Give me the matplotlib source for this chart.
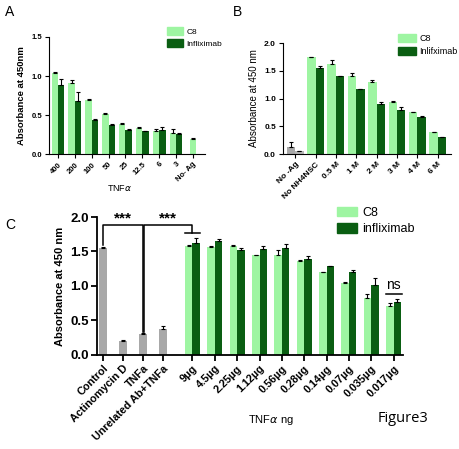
import numpy as np
import matplotlib
matplotlib.use("Agg")
import matplotlib.pyplot as plt
from matplotlib.patches import Patch

plt.rcParams["font.family"] = ["Liberation Sans", "DejaVu Sans"]

light = "#9ef5a2"
dark = "#0a5e12"
grey = "#a8a8a8"

# panel A
a_cats = ["400", "200", "100", "50", "25", "12.5", "6", "3", "No- Ag"]
a_c8 = [1.04, 0.915, 0.69, 0.51, 0.38, 0.33, 0.30, 0.27, 0.19]
a_c8_err = [0.01, 0.03, 0.01, 0.01, 0.02, 0.02, 0.02, 0.05, 0.01]
a_inf = [0.88, 0.68, 0.435, 0.375, 0.31, 0.295, 0.305, 0.258]
a_inf_err = [0.08, 0.12, 0.02, 0.005, 0.005, 0.005, 0.04, 0.01]

# panel B
b_cats = ["No -Ag", "No NH4NSC", "0.5 M", "1 M", "2 M", "3 M", "4 M", "6 M"]
b_c8 = [0.12, 1.75, 1.62, 1.41, 1.30, 0.94, 0.76, 0.40]
b_c8_err = [0.10, 0.0, 0.08, 0.05, 0.04, 0.01, 0.0, 0.0]
b_inf = [0.06, 1.545, 1.40, 1.18, 0.91, 0.80, 0.67, 0.31]
b_inf_err = [0.0, 0.05, 0.0, 0.0, 0.03, 0.05, 0.01, 0.0]

# panel C
c_ctrl_cats = ["Control", "Actinomycin D", "TNFa", "Unrelated Ab+TNFa"]
c_ctrl = [1.55, 0.20, 0.31, 0.375]
c_ctrl_err = [0.02, 0.01, 0.01, 0.04]
c_cats = ["9µg", "4.5µg", "2.25µg", "1.12µg", "0.56µg", "0.28µg", "0.14µg",
          "0.07µg", "0.035µg", "0.017µg"]
c_c8 = [1.58, 1.57, 1.585, 1.445, 1.455, 1.36, 1.20, 1.045, 0.82, 0.71]
c_c8_err = [0.01, 0.01, 0.01, 0.01, 0.07, 0.01, 0.01, 0.01, 0.06, 0.04]
c_inf = [1.62, 1.645, 1.52, 1.54, 1.555, 1.39, 1.285, 1.21, 1.02, 0.77]
c_inf_err = [0.08, 0.03, 0.03, 0.04, 0.05, 0.04, 0.01, 0.02, 0.09, 0.04]

fig = plt.figure(figsize=(4.6, 4.49), dpi=100)


def style(ax, lw):
    for s in ["top", "right"]:
        ax.spines[s].set_visible(False)
    for s in ["left", "bottom"]:
        ax.spines[s].set_linewidth(lw)
    ax.tick_params(width=lw, length=3, direction="out", pad=2)


ekw = dict(ecolor="black", elinewidth=0.8, capsize=1.2, capthick=0.8)
legkw = dict(loc="upper left", bbox_transform=fig.transFigure, frameon=False,
             borderpad=0, borderaxespad=0, handletextpad=0.4)

# ---- A
axA = fig.add_axes([0.1065, 0.657, 0.339, 0.2606])
style(axA, 0.8)
xa = np.arange(len(a_cats))
w = 0.375
xc8 = np.append(xa[:-1] - w / 2, xa[-1])
axA.bar(xc8, a_c8, w, color=light, yerr=[np.zeros(9), a_c8_err], error_kw=ekw)
axA.bar(xa[:-1] + w / 2, a_inf, w, color=dark, yerr=[np.zeros(8), a_inf_err], error_kw=ekw)
axA.set_xlim(-0.53, 8.71)
axA.set_ylim(0, 1.5)
axA.set_yticks([0, 0.5, 1.0, 1.5])
axA.set_yticklabels(["0.0", "0.5", "1.0", "1.5"], fontsize=5.5, fontweight="bold")
axA.set_xticks(xa)
axA.set_xticklabels(a_cats, rotation=45, ha="right", rotation_mode="anchor",
                    fontsize=5.5, fontweight="bold")
axA.set_ylabel("Absorbance at 450nm", fontsize=6.8, fontweight="bold", labelpad=4)
axA.set_xlabel("TNF$\\alpha$", fontsize=6.5)
axA.xaxis.set_label_coords(0.45, -0.245)
axA.legend(handles=[Patch(color=light, label="C8"), Patch(color=dark, label="Infliximab")],
           bbox_to_anchor=(0.362, 0.94), fontsize=6, handlelength=2.0, handleheight=1.1,
           labelspacing=0.35, **legkw)

# ---- B
axB = fig.add_axes([0.615, 0.657, 0.365, 0.247])
style(axB, 0.8)
xb = np.arange(len(b_cats))
w = 0.415
cl = [grey] + [light] * 7
cd = ["#b8b8b8"] + [dark] * 7
axB.bar(xb - w / 2, b_c8, w, color=cl, yerr=[np.zeros(8), b_c8_err], error_kw=ekw)
axB.bar(xb + w / 2, b_inf, w, color=cd, yerr=[np.zeros(8), b_inf_err], error_kw=ekw)
axB.set_xlim(-0.6, 7.64)
axB.set_ylim(0, 2.0)
axB.set_yticks([0, 0.5, 1.0, 1.5, 2.0])
axB.set_yticklabels(["0.0", "0.5", "1.0", "1.5", "2.0"], fontsize=6, fontweight="bold")
axB.set_xticks(xb)
axB.set_xticklabels(b_cats, rotation=45, ha="right", rotation_mode="anchor",
                    fontsize=6, fontweight="bold")
axB.set_ylabel("Absorbance at 450 nm", fontsize=7, labelpad=4)
axB.legend(handles=[Patch(color=light, label="C8"), Patch(color=dark, label="Inlifximab")],
           bbox_to_anchor=(0.865, 0.925), fontsize=6.5, handlelength=2.0, handleheight=1.1,
           labelspacing=0.4, **legkw)

# ---- C
axC = fig.add_axes([0.211, 0.2094, 0.665, 0.3073])
style(axC, 1.3)
xg = np.arange(4) * 0.9
xp = 4.0 + np.arange(10)
w = 0.34
axC.bar(xg, c_ctrl, 0.36, color=grey, yerr=[np.zeros(4), c_ctrl_err], error_kw=ekw)
axC.bar(xp - w / 2, c_c8, w, color=light, yerr=[np.zeros(10), c_c8_err], error_kw=ekw)
axC.bar(xp + w / 2, c_inf, w, color=dark, yerr=[np.zeros(10), c_inf_err], error_kw=ekw)
axC.set_xlim(-0.27, 13.42)
axC.set_ylim(0, 2.0)
axC.set_yticks([0, 0.5, 1.0, 1.5, 2.0])
axC.set_yticklabels(["0.0", "0.5", "1.0", "1.5", "2.0"], fontsize=9.5, fontweight="bold")
axC.set_xticks(np.concatenate([xg, xp]))
axC.set_xticklabels(c_ctrl_cats + c_cats, rotation=45, ha="right", rotation_mode="anchor",
                    fontsize=7.8, fontweight="bold")
axC.tick_params(length=4)
axC.set_ylabel("Absorbance at 450 nm", fontsize=8, fontweight="bold", labelpad=4)

# significance brackets
top = 1.89
axC.plot([xg[0], xg[0], xg[2] - 0.03, xg[2] - 0.03], [1.59, top, top, 0.34], color="black", lw=1.1)
axC.plot([xg[2] + 0.05, xg[2] + 0.05, xp[0], xp[0]], [0.34, top, top, 1.77], color="black", lw=1.1)
axC.plot([xp[0] - 0.34, xp[0] + 0.34], [1.77, 1.77], color="black", lw=1.1)
axC.text((xg[0] + xg[2]) / 2, 1.88, "***", ha="center", va="bottom", fontsize=11, fontweight="bold")
axC.text((xg[2] + xp[0]) / 2, 1.88, "***", ha="center", va="bottom", fontsize=11, fontweight="bold")
axC.plot([xp[-1] - 0.36, xp[-1] + 0.36], [0.88, 0.88], color="black", lw=1.1)
axC.text(xp[-1], 0.92, "ns", ha="center", va="bottom", fontsize=10)

axC.legend(handles=[Patch(color=light, label="C8"), Patch(color=dark, label="infliximab")],
           bbox_to_anchor=(0.733, 0.54), fontsize=9, handlelength=1.6, handleheight=0.8,
           labelspacing=0.35, **legkw)

fig.text(248 / 460, 1 - 420 / 449, "TNF$\\alpha$ ng", fontsize=8, ha="left", va="center")
fig.text(378 / 460, 1 - 418 / 449, "Figure3", fontsize=10.5, ha="left", va="center",
         family="Open Sans")

fig.text(5 / 460, 1 - 12 / 449, "A", fontsize=10, va="center")
fig.text(233 / 460, 1 - 12 / 449, "B", fontsize=10, va="center")
fig.text(5 / 460, 1 - 225 / 449, "C", fontsize=10, va="center")

fig.savefig("out.png", dpi=100)
